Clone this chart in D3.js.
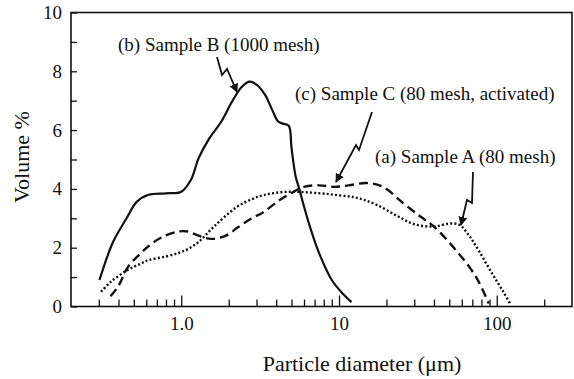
<!DOCTYPE html>
<html><head><meta charset="utf-8">
<script src="https://cdn.jsdelivr.net/npm/d3@7"></script>
<style>
html,body{margin:0;padding:0;background:#fff;}
svg text{font-family:"Liberation Serif","Times New Roman",serif;fill:#111;}
</style></head>
<body>
<svg id="chart" width="574" height="379"></svg>
<script>
// ---- data ----
const sampleB_x = [0.303,0.37,0.45,0.52,0.62,0.8,1.0,1.15,1.29,1.5,1.8,2.09,2.4,2.7,3.0,3.4,3.8,4.1,4.4,4.8,5.0,5.3,5.6,6.0,6.6,7.5,9.0,10.5,12.0];
const sampleB_y = [0.9,2.2,3.0,3.55,3.8,3.85,3.9,4.3,5.05,5.7,6.3,6.95,7.45,7.65,7.55,7.2,6.65,6.3,6.22,6.15,5.4,4.45,4.0,3.4,2.65,1.8,0.9,0.45,0.15];

const sampleC_x = [0.356,0.40,0.46,0.55,0.62,0.75,0.96,1.1,1.3,1.55,1.9,2.3,2.8,3.3,4.15,4.95,6.0,7.5,9.3,11.5,15,19,25.7,33,40,55,74,89];
const sampleC_y = [0.35,0.7,1.35,1.8,2.05,2.35,2.55,2.55,2.4,2.3,2.4,2.7,3.0,3.2,3.6,3.85,4.07,4.12,4.07,4.12,4.2,4.07,3.5,3.05,2.72,1.92,1.0,0.1];

const sampleA_x = [0.31,0.36,0.46,0.55,0.62,0.8,0.96,1.1,1.29,1.6,2.24,2.8,3.33,4.66,7.6,10,12.4,14.5,17.5,23,30,40,50,58,66,74,93,110,123];
const sampleA_y = [0.5,0.85,1.25,1.45,1.58,1.7,1.82,1.95,2.2,2.7,3.38,3.65,3.79,3.9,3.85,3.78,3.72,3.62,3.45,3.1,2.8,2.72,2.82,2.78,2.45,2.05,1.14,0.5,0.05];

const xMajorTicks = [1,10,100];
const xMajorLabels = ["1.0","10","100"];
const xMinorTicks = [0.3,0.4,0.5,0.6,0.7,0.8,0.9,2,3,4,5,6,7,8,9,20,30,40,50,60,70,80,90,200];
const yTicks = [0,1,2,3,4,5,6,7,8,9,10];

const labelB = "(b) Sample B (1000 mesh)";
const labelC = "(c) Sample C (80 mesh, activated)";
const labelA = "(a) Sample A (80 mesh)";
const xTitle = "Particle diameter (\u03bcm)";
const yTitle = "Volume %";

// ---- layout ----
const L = 71, R = 572, T = 12.5, B = 306.5;
const svg = d3.select("#chart");
const x = d3.scaleLog().domain([0.2, 300]).range([L, R]);
const y = d3.scaleLinear().domain([0, 10]).range([B, T]);

// frame
svg.append("rect").attr("x", L).attr("y", T).attr("width", R - L).attr("height", B - T)
  .attr("fill", "none").attr("stroke", "#111").attr("stroke-width", 1.6);

// x axis minor ticks
const gxMinor = svg.append("g").attr("transform", `translate(0,${B})`)
  .call(d3.axisBottom(x).tickValues(xMinorTicks).tickSize(-7).tickFormat(""));
gxMinor.select(".domain").remove();
gxMinor.selectAll("line").attr("stroke", "#111").attr("stroke-width", 1.3);

// x axis major ticks with labels
const gxMajor = svg.append("g").attr("transform", `translate(0,${B})`)
  .call(d3.axisBottom(x).tickValues(xMajorTicks).tickSize(-11).tickPadding(10)
    .tickFormat((d, i) => xMajorLabels[i]));
gxMajor.select(".domain").remove();
gxMajor.selectAll("line").attr("stroke", "#111").attr("stroke-width", 1.3);
gxMajor.selectAll("text").attr("font-size", 19).attr("font-family", "Liberation Serif");

// y axis
const gy = svg.append("g").attr("transform", `translate(${L},0)`)
  .call(d3.axisLeft(y).tickValues(yTicks).tickSize(-6).tickPadding(9)
    .tickFormat(d => d % 2 === 0 ? d : ""));
gy.select(".domain").remove();
gy.selectAll("line").attr("stroke", "#111").attr("stroke-width", 1.3);
gy.selectAll("text").attr("font-size", 19).attr("font-family", "Liberation Serif");

// axis titles
svg.append("text").attr("x", 362).attr("y", 371).attr("text-anchor", "middle")
  .attr("font-size", 22).text(xTitle);
svg.append("text").attr("transform", "translate(29,157) rotate(-90)")
  .attr("text-anchor", "middle").attr("font-size", 22).text(yTitle);

// curves
const line = d3.line().x(d => x(d[0])).y(d => y(d[1])).curve(d3.curveCatmullRom.alpha(0.5));
const series = [
  {xs: sampleB_x, ys: sampleB_y, dash: null, w: 2.2},
  {xs: sampleC_x, ys: sampleC_y, dash: "9,5", w: 2.4},
  {xs: sampleA_x, ys: sampleA_y, dash: "2,2.2", w: 2.4}
];
series.forEach(s => {
  svg.append("path").datum(s.xs.map((v, i) => [v, s.ys[i]]))
    .attr("d", line).attr("fill", "none").attr("stroke", "#111")
    .attr("stroke-width", s.w).attr("stroke-dasharray", s.dash);
});

// annotations
svg.append("defs").append("marker").attr("id", "ah").attr("viewBox", "0 0 10 10")
  .attr("refX", 9).attr("refY", 5).attr("markerWidth", 5).attr("markerHeight", 5)
  .attr("orient", "auto").attr("markerUnits", "strokeWidth")
  .append("path").attr("d", "M0,0 L10,5 L0,10 z").attr("fill", "#111");

const annots = [
  {text: labelB, tx: 118, ty: 51, pts: [[217,57],[222,75],[227,69],[237,92]]},
  {text: labelC, tx: 295, ty: 100, pts: [[372,112],[359,150],[356,145],[336,182]]},
  {text: labelA, tx: 375, ty: 163, pts: [[473,172],[472,203],[467,200],[461,225]]}
];
annots.forEach(a => {
  svg.append("text").attr("x", a.tx).attr("y", a.ty).attr("font-size", 19).text(a.text);
  svg.append("path").attr("d", d3.line()(a.pts)).attr("fill", "none")
    .attr("stroke", "#111").attr("stroke-width", 1.8).attr("marker-end", "url(#ah)");
});
</script>
</body></html>
